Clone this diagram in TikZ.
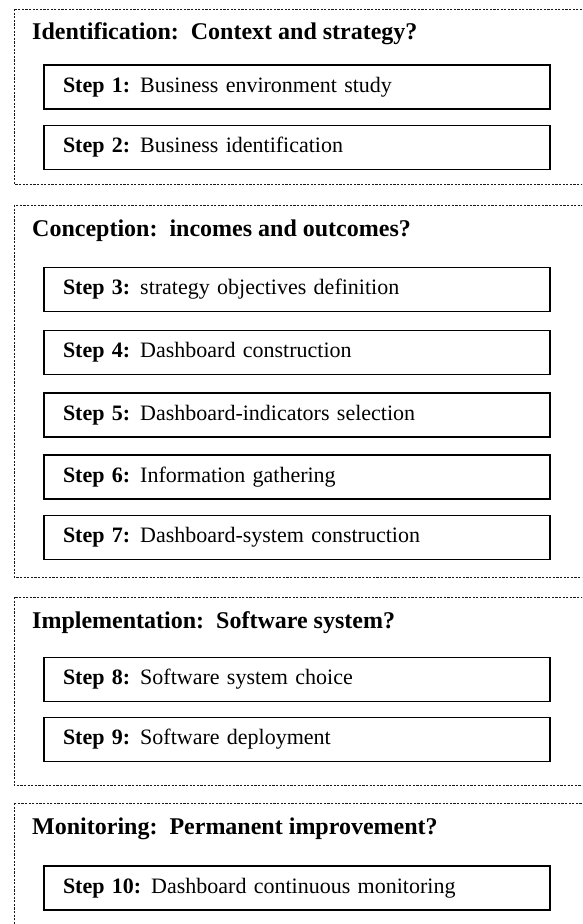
\documentclass[tikz,border=0pt]{standalone}
\usepackage{fontspec}
\setmainfont{Liberation Serif}
\usepackage{xcolor}
\usetikzlibrary{calc, positioning}

\tikzset{
    stepbox/.style={draw, line width=1.1pt, minimum width=506pt, minimum height=44pt,
        inner xsep=19pt, text width=468pt, align=left, font=\fontsize{22}{26}\selectfont},
    phasetitle/.style={anchor=base west, inner sep=0pt, font=\fontsize{24}{28}\selectfont\bfseries},
    phaseframe/.style={draw=black!90, line width=1pt, dash pattern=on 2.2pt off 1.4pt}
}
\newcommand{\stp}[1]{\textbf{Step #1:}\hspace{10pt}}

\begin{document}
\begin{tikzpicture}[x=1pt, y=-1pt]

    % =================================================================
    % 1. KHUNG ANH
    % =================================================================
    \useasboundingbox (0,0) rectangle (582,924);
    \clip (0,0) rectangle (582,924);

    % =================================================================
    % 2. TOA DO CAC KHUNG NET DUT
    % =================================================================
    \coordinate (P1) at (14,9);
    \coordinate (Q1) at (600,184);
    \coordinate (P2) at (14,205);
    \coordinate (Q2) at (600,577);
    \coordinate (P3) at (14,597);
    \coordinate (Q3) at (600,785);
    \coordinate (P4) at (14,803);
    \coordinate (Q4) at (600,940);

    \draw[phaseframe] (P1) rectangle (Q1);
    \draw[phaseframe] (P2) rectangle (Q2);
    \draw[phaseframe] (P3) rectangle (Q3);
    \draw[phaseframe] (P4) rectangle (Q4);

    % =================================================================
    % 3. TIEU DE CAC GIAI DOAN
    % =================================================================
    \node[phasetitle] (T1) at (32,39) {Identification:\ \ Context and strategy?};
    \node[phasetitle] (T2) at (32,236) {Conception:\ \ incomes and outcomes?};
    \node[phasetitle] (T3) at (32,628) {Implementation:\ \ Software system?};
    \node[phasetitle] (T4) at (32,834) {Monitoring:\ \ Permanent improvement?};

    % =================================================================
    % 4. CAC BUOC
    % =================================================================
    \node[stepbox] (S1) at (297,87) {\stp{1}Business environment study};
    \node[stepbox] (S2) at (297,147.5) {\stp{2}Business identification};

    \node[stepbox] (S3) at (297,289.5) {\stp{3}strategy objectives definition};
    \node[stepbox] (S4) at (297,352.5) {\stp{4}Dashboard construction};
    \node[stepbox] (S5) at (297,415) {\stp{5}Dashboard-indicators selection};
    \node[stepbox] (S6) at (297,477) {\stp{6}Information gathering};
    \node[stepbox] (S7) at (297,537.5) {\stp{7}Dashboard-system construction};

    \node[stepbox] (S8) at (297,679.5) {\stp{8}Software system choice};
    \node[stepbox] (S9) at (297,739.5) {\stp{9}Software deployment};

    \node[stepbox] (S10) at (297,888) {\stp{10}Dashboard continuous monitoring};

\end{tikzpicture}
\end{document}
